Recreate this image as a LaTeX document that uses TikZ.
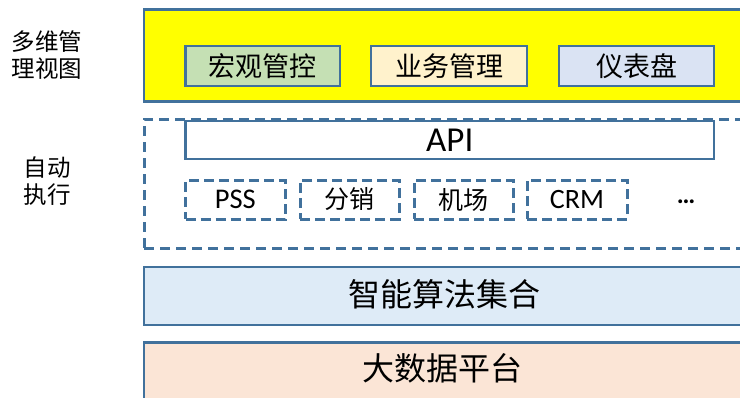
\documentclass[tikz,border=0pt]{standalone}
\usepackage{fontspec}
\setmainfont{Noto Sans CJK SC}
\newfontfamily\latinf{Carlito}
\definecolor{bord}{HTML}{41719C}
\definecolor{ylw}{HTML}{FFFF00}
\definecolor{grn}{HTML}{C5E0B4}
\definecolor{crm}{HTML}{FFF2CC}
\definecolor{lblue}{HTML}{DAE3F3}
\definecolor{lblue2}{HTML}{DEEBF7}
\definecolor{peach}{HTML}{FBE5D6}
\tikzset{
  x=1pt, y=-1pt,
  layerbox/.style={draw=bord, line width=2.8pt, rectangle, inner sep=0pt},
  subbox/.style={draw=bord, line width=2.6pt, rectangle, inner sep=0pt, font=\fontsize{27}{30}\selectfont},
  sysbox/.style={draw=bord, line width=3pt, dash pattern=on 10pt off 5pt, rectangle, inner sep=0pt},
  sidelabel/.style={align=center, font=\fontsize{23.5}{27.5}\selectfont, inner sep=0pt},
  bigtext/.style={font=\fontsize{32}{34}\selectfont, inner sep=0pt},
}
\begin{document}
\begin{tikzpicture}
\useasboundingbox (0,0) rectangle (740,397);
\clip (0,0) rectangle (740,397);
% layer boxes
\node[layerbox, fill=ylw, minimum width=620pt, minimum height=92pt, anchor=north west] (view) at (142.5,8) {};
\node[layerbox, line width=3pt, dash pattern=on 10pt off 6pt, minimum width=620pt, minimum height=129pt, anchor=north west] (exec) at (142.5,117.5) {};
\node[layerbox, fill=lblue2, minimum width=620pt, minimum height=58pt, anchor=north west] (algo) at (142.5,265.5) {};
\node[layerbox, fill=peach, minimum width=620pt, minimum height=70pt, anchor=north west] (data) at (142.5,341) {};
\node[bigtext] (algot) at (444,294) {智能算法集合};
\node[bigtext] (datat) at (442.5,368) {大数据平台};
% view sub boxes
\node[subbox, fill=grn, minimum width=154.5pt, minimum height=40pt] (hg) at (262.75,66) {宏观管控};
\node[subbox, fill=crm, minimum width=156pt, minimum height=40pt] (yw) at (449,66) {业务管理};
\node[subbox, fill=lblue, minimum width=155pt, minimum height=40pt] (yb) at (636.5,66) {仪表盘};
% exec
\node[subbox, fill=white, minimum width=528.5pt, minimum height=38pt, font=\latinf\fontsize{35}{38}\selectfont] (api) at (449.75,140) {API};
\node[sysbox, minimum width=99.5pt, minimum height=39pt, font=\latinf\fontsize{28.5}{30}\selectfont] (pss) at (235.25,199.5) {PSS};
\node[sysbox, minimum width=99pt, minimum height=39pt, font=\fontsize{25}{28}\selectfont] (fx) at (349.5,199.5) {分销};
\node[sysbox, minimum width=99pt, minimum height=39pt, font=\fontsize{25}{28}\selectfont] (jc) at (463.5,199.5) {机场};
\node[sysbox, minimum width=100pt, minimum height=39pt, font=\latinf\fontsize{28}{30}\selectfont] (crmb) at (577,199.5) {CRM};
\node[inner sep=0pt, font=\latinf\bfseries\fontsize{26}{30}\selectfont] (more) at (686,202) {\ldots};
% side labels
\node[sidelabel] (lv) at (47,55) {多维管\\理视图};
\node[sidelabel] (le) at (47,181) {自动\\执行};
\end{tikzpicture}
\end{document}
